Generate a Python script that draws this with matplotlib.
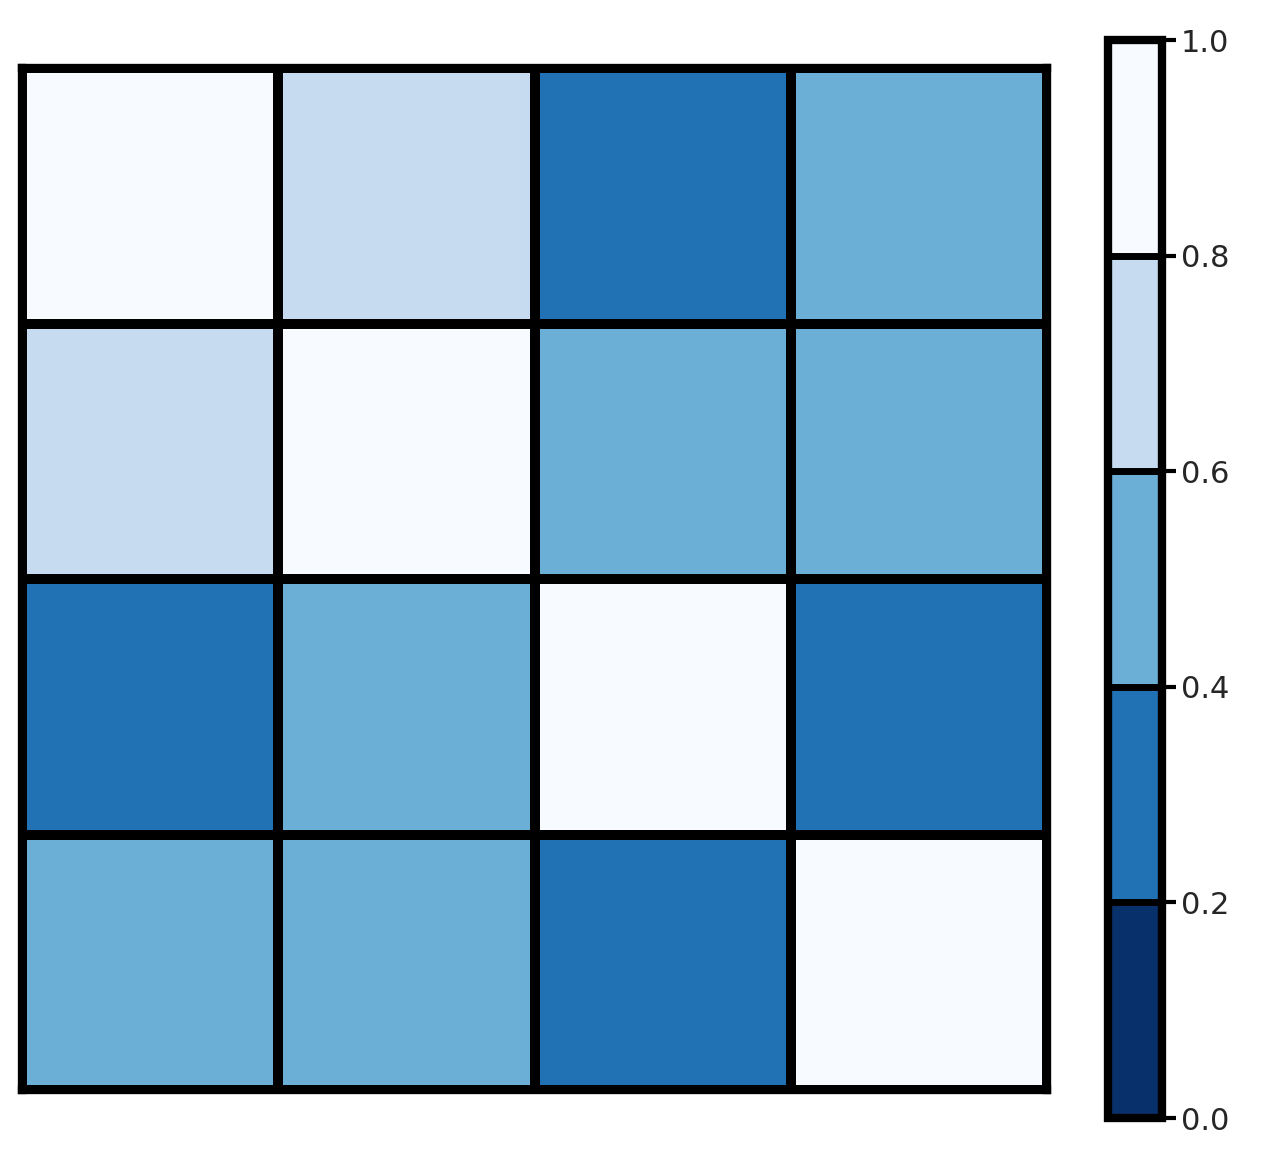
import matplotlib
matplotlib.use("Agg")
import matplotlib.pyplot as plt
from matplotlib.colors import ListedColormap, BoundaryNorm
import numpy as np

values = [
    [1.0, 0.7, 0.3, 0.5],
    [0.7, 1.0, 0.5, 0.5],
    [0.3, 0.5, 1.0, 0.3],
    [0.5, 0.5, 0.3, 1.0],
]
bin_colors = ["#08306b", "#2171b5", "#6baed6", "#c6dbef", "#f7fbff"]
bounds = [0.0, 0.2, 0.4, 0.6, 0.8, 1.0]

data = np.array(values)
cmap = ListedColormap(bin_colors)
norm = BoundaryNorm(bounds, cmap.N)

fig = plt.figure(figsize=(12.8, 11.67), dpi=100)
ax = fig.add_axes([22/1280, 1-1090/1167, 1025/1280, 1022/1167])
cax = fig.add_axes([1108/1280, 1-1118/1167, 54/1280, 1078/1167])

mesh = ax.pcolormesh(data, cmap=cmap, norm=norm, edgecolors="black", linewidth=6)
ax.set_xlim(0, 4); ax.set_ylim(4, 0)
ax.set_xticks([]); ax.set_yticks([])
for s in ax.spines.values():
    s.set_linewidth(6); s.set_color("black")

cb = fig.colorbar(mesh, cax=cax, ticks=[0, 0.2, 0.4, 0.6, 0.8, 1.0], drawedges=True)
cb.dividers.set_color("black"); cb.dividers.set_linewidth(5)
cb.outline.set_linewidth(6); cb.outline.set_edgecolor("black")
cax.tick_params(labelsize=22, width=3, length=10, colors="black", labelcolor="#262626")
cax.set_yticklabels(["0.0", "0.2", "0.4", "0.6", "0.8", "1.0"])

fig.savefig("out.png", dpi=100)
